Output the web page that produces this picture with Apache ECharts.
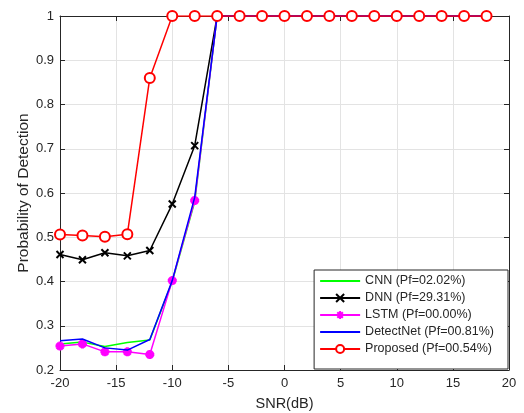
<!DOCTYPE html>
<html><head><meta charset="utf-8">
<script src="https://cdn.jsdelivr.net/npm/echarts@6/dist/echarts.min.js"></script>
<style>html,body{margin:0;padding:0;background:#fff}#c{width:524px;height:413px}</style>
</head><body><div id="c"></div>
<script>
const snr = [-20,-18,-16,-14,-12,-10,-8,-6,-4,-2,0,2,4,6,8,10,12,14,16,18];
const cnn = [0.259,0.263,0.253,0.262,0.268,0.400,0.580,1,1,1,1,1,1,1,1,1,1,1,1,1];
const dnn = [0.461,0.449,0.465,0.458,0.470,0.575,0.707,1,1,1,1,1,1,1,1,1,1,1,1,1];
const lstm = [0.254,0.259,0.241,0.241,0.235,0.402,0.583,1,1,1,1,1,1,1,1,1,1,1,1,1];
const detectnet = [0.266,0.270,0.250,0.245,0.269,0.402,0.590,1,1,1,1,1,1,1,1,1,1,1,1,1];
const proposed = [0.506,0.504,0.501,0.507,0.860,1,1,1,1,1,1,1,1,1,1,1,1,1,1,1];
const names = ['CNN (Pf=02.02%)','DNN (Pf=29.31%)','LSTM (Pf=00.00%)','DetectNet (Pf=00.81%)','Proposed (Pf=00.54%)'];

const pair = arr => snr.map((x,i)=>[x,arr[i]]);
const font = 'Liberation Sans, Arial, Helvetica, sans-serif';
const axCol = '#262626';
const chart = echarts.init(document.getElementById('c'));
const xMark = 'path://M0,0L10,10M10,0L0,10';
const star = 'path://M5,0L5,10M0,5L10,5M1.5,1.5L8.5,8.5M8.5,1.5L1.5,8.5';
const boxAxis = {axisLine:{show:true,onZero:false,lineStyle:{color:axCol,width:1}},
  axisTick:{show:true,inside:true,length:5,lineStyle:{color:axCol}}};
chart.setOption({
  animation:false,
  grid:{left:60,right:15,top:16,bottom:43,containLabel:false,outerBoundsMode:'none'},
  textStyle:{fontFamily:font},
  xAxis:[{
    type:'value',min:-20,max:20,interval:5,
    name:'SNR(dB)',nameLocation:'middle',nameGap:26,nameMoveOverlap:false,
    nameTextStyle:{fontSize:14.5,color:axCol,fontFamily:font},
    ...boxAxis,
    axisLabel:{color:axCol,fontSize:13,margin:7,fontFamily:font},
    splitLine:{show:true,lineStyle:{color:'#e3e3e3',width:1}}
  },{
    type:'value',min:-20,max:20,interval:5,position:'top',
    ...boxAxis,
    axisLabel:{show:false},splitLine:{show:false}
  }],
  yAxis:[{
    type:'value',min:0.2,max:1,interval:0.1,
    name:'Probability of Detection',nameLocation:'middle',nameGap:28,nameMoveOverlap:false,
    nameTextStyle:{fontSize:15.5,color:axCol,fontFamily:font},
    ...boxAxis,
    axisLabel:{color:axCol,fontSize:13,margin:6,fontFamily:font,formatter:v=>String(+v.toFixed(1))},
    splitLine:{show:true,lineStyle:{color:'#e3e3e3',width:1}}
  },{
    type:'value',min:0.2,max:1,interval:0.1,position:'right',
    ...boxAxis,
    axisLabel:{show:false},splitLine:{show:false}
  }],
  legend:{
    orient:'vertical',right:16,bottom:44,
    backgroundColor:'#fff',borderColor:axCol,borderWidth:1,borderRadius:0,
    padding:[4,14,13,5],itemWidth:40,itemHeight:10,itemGap:3,
    textStyle:{fontSize:12.5,color:axCol,fontFamily:font,lineHeight:14},
    data:[
      {name:names[0],itemStyle:{opacity:0}},
      {name:names[1]},
      {name:names[2]},
      {name:names[3],itemStyle:{opacity:0}},
      {name:names[4]}
    ]
  },
  series:[
    {name:names[0],type:'line',data:pair(cnn),symbol:'none',lineStyle:{color:'#00ff00',width:1.5},itemStyle:{color:'#00ff00'},z:2},
    {name:names[1],type:'line',data:pair(dnn),symbol:xMark,symbolSize:7,showSymbol:true,
      lineStyle:{color:'#000',width:1.5},itemStyle:{color:'#000',borderColor:'#000',borderWidth:2},z:3},
    {name:names[2],type:'line',data:pair(lstm),symbol:star,symbolSize:9,
      lineStyle:{color:'#ff00ff',width:1.5},itemStyle:{color:'#ff00ff',borderColor:'#ff00ff',borderWidth:3},z:4},
    {name:names[3],type:'line',data:pair(detectnet),symbol:'none',lineStyle:{color:'#0000ff',width:1.5},itemStyle:{color:'#0000ff'},z:5},
    {name:names[4],type:'line',data:pair(proposed),symbol:'emptyCircle',symbolSize:10,
      lineStyle:{color:'#ff0000',width:1.5},itemStyle:{color:'#ff0000',borderColor:'#ff0000',borderWidth:1.5},z:6}
  ]
});
</script></body></html>
